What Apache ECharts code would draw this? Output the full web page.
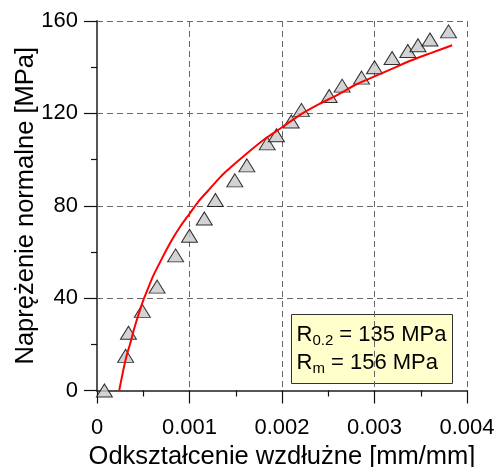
<!DOCTYPE html>
<html>
<head>
<meta charset="utf-8">
<script src="https://cdn.jsdelivr.net/npm/echarts@6/dist/echarts.min.js"></script>
<style>
  html, body { margin: 0; padding: 0; background: #fff; }
  #chart { width: 497px; height: 467px; }
</style>
</head>
<body>
<div id="chart"></div>
<script>
// Measured points of the tensile test
const strain = [0.00008, 0.00031, 0.00034, 0.00049, 0.00065, 0.00085, 0.00100, 0.00116,
                0.00128, 0.00149, 0.00162, 0.00184, 0.00194, 0.00210, 0.00221, 0.00251,
                0.00265, 0.00286, 0.00300, 0.00319, 0.00336, 0.00347, 0.00360, 0.00380];
const stress = [0, 15, 25, 34.5, 45, 58.5, 67, 74.5,
                82.5, 91, 97.5, 107, 110.5, 116.5, 121.5, 127.5,
                132, 135.5, 140, 144, 147, 149.5, 152, 155.5];

// Fitted curve samples
const fitStrain = [0.00024, 0.00028, 0.00032, 0.00036, 0.0004, 0.00045, 0.0005, 0.00055, 0.0006,
                   0.0007, 0.0008, 0.0009, 0.001, 0.0011, 0.0012, 0.0013, 0.0014, 0.0016,
                   0.0018, 0.002, 0.0022, 0.0024, 0.0026, 0.0028, 0.003, 0.0032, 0.0034,
                   0.0036, 0.00384];
const fitStress = [0, 8, 15, 20.5, 26.5, 33, 39, 44, 49,
                   57, 64.5, 71, 76.5, 82, 86.5, 91, 95, 102,
                   108.5, 114, 119.5, 124, 128, 132.5, 136, 139.5, 143,
                   146, 149.5];

const xTickLabels = ['0', '0.001', '0.002', '0.003', '0.004'];
const yTickLabels = ['0', '40', '80', '120', '160'];

const FONT = 'Liberation Sans, Arial, sans-serif';

const chart = echarts.init(document.getElementById('chart'), null, { renderer: 'canvas' });

const axisCommon = {
  axisLine: { show: true, onZero: false, lineStyle: { color: '#555', width: 2 } },
  axisTick: { show: true, inside: false, length: 13, lineStyle: { color: '#111', width: 1.2 } },
  minorTick: { show: true, splitNumber: 2, length: 6, lineStyle: { color: '#111', width: 1.2 } },
  splitLine: { show: true, lineStyle: { color: '#666', type: [6, 4], width: 1 } },
  axisLabel: { color: '#000', fontSize: 22, fontFamily: FONT },
  nameTextStyle: { color: '#000', fontSize: 25.5, fontFamily: FONT },
  nameMoveOverlap: false
};

chart.setOption({
  animation: false,
  backgroundColor: '#fff',
  grid: { left: 97, right: 30, top: 21, bottom: 76.5, containLabel: false, outerBoundsMode: 'none' },
  xAxis: Object.assign({}, axisCommon, {
    type: 'value', min: 0, max: 0.004, interval: 0.001,
    name: 'Odkształcenie wzdłużne [mm/mm]',
    nameLocation: 'middle', nameGap: 53,
    axisLabel: Object.assign({}, axisCommon.axisLabel, {
      margin: 26,
      formatter: (v, i) => xTickLabels[i]
    })
  }),
  yAxis: Object.assign({}, axisCommon, {
    type: 'value', min: 0, max: 160, interval: 40,
    name: 'Naprężenie normalne [MPa]',
    nameLocation: 'middle', nameGap: 58,
    axisLabel: Object.assign({}, axisCommon.axisLabel, {
      margin: 19,
      formatter: (v, i) => yTickLabels[i]
    })
  }),
  series: [
    {
      type: 'scatter',
      z: 2,
      symbol: 'triangle',
      symbolSize: [16, 13],
      itemStyle: { color: '#c8c8c8', borderColor: '#000', borderWidth: 1 },
      data: strain.map((x, i) => [x, stress[i]])
    },
    {
      type: 'line',
      z: 3,
      smooth: 0.2,
      showSymbol: false,
      symbol: 'none',
      lineStyle: { color: '#ff0000', width: 2 },
      data: fitStrain.map((x, i) => [x, fitStress[i]])
    }
  ],
  graphic: [{
    type: 'group',
    left: 291,
    top: 314,
    z: 10,
    children: [
      {
        type: 'rect',
        shape: { x: 0, y: 0, width: 161, height: 69 },
        style: { fill: '#ffffcc', stroke: '#333', lineWidth: 1 }
      },
      {
        type: 'text',
        x: 5,
        y: 6,
        style: {
          text: '{r|R}{s|0.2}{r| = 135 MPa}\n{r|R}{s|m}{r| = 156 MPa}',
          rich: {
            r: { fontSize: 22, fontFamily: FONT, lineHeight: 28, fill: '#000' },
            s: { fontSize: 15, fontFamily: FONT, lineHeight: 14, verticalAlign: 'bottom', fill: '#000' }
          }
        }
      }
    ]
  }]
});
</script>
</body>
</html>
